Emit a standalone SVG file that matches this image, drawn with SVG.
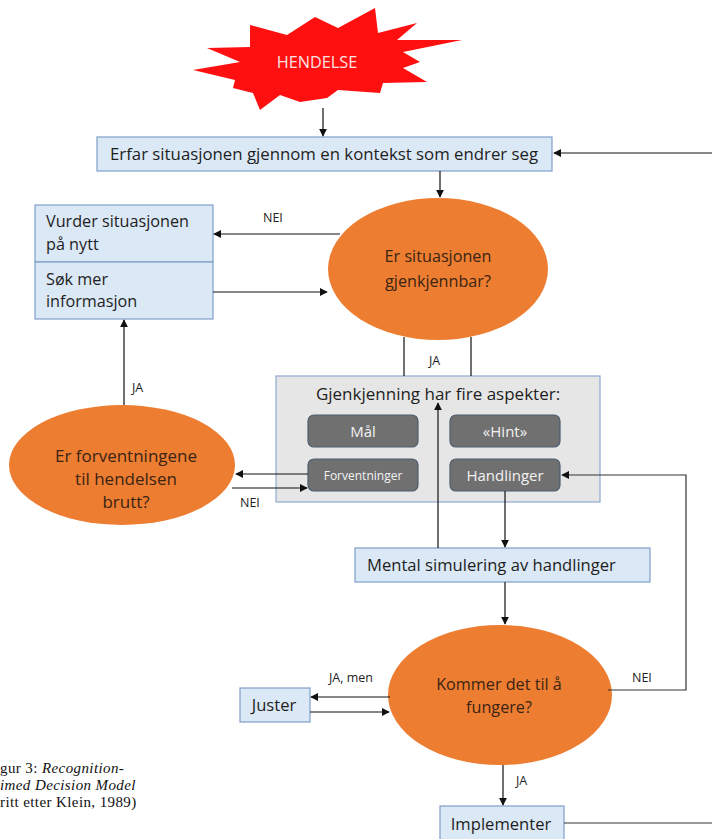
<svg xmlns="http://www.w3.org/2000/svg" width="712" height="839" viewBox="0 0 712 839">
  <style>
    .t { font-family: "Open Sans", "Noto Sans", sans-serif; font-size: 16.6px; fill: #1e1e1e; }
    .lbl { font-family: "Open Sans", "Noto Sans", sans-serif; font-size: 12.5px; fill: #1e1e1e; }
    .q { font-family: "Open Sans", "Noto Sans", sans-serif; font-size: 16.2px; fill: #3a2414; text-anchor: middle; }
    .box { fill: #dbe8f5; stroke: #7f9fc8; stroke-width: 1.2; }
    .oval { fill: #ed7d31; }
    .btn { fill: #707070; stroke: #4d5e70; stroke-width: 1.2; }
    .btxt { font-family: "Open Sans", "Noto Sans", sans-serif; font-size: 15px; fill: #f2f2f2; text-anchor: middle; }
    .ln { fill: none; stroke: #111; stroke-width: 1.2; }
    .cap { font-family: "Liberation Serif", serif; font-size: 15px; letter-spacing: 0.4px; fill: #111; }
  </style>
  <defs>
    <marker id="ah" viewBox="0 0 10 10" refX="9" refY="5" markerWidth="8" markerHeight="8" markerUnits="userSpaceOnUse" orient="auto">
      <path d="M0,0 L10,5 L0,10 z" fill="#111"/>
    </marker>
  </defs>

  <rect width="712" height="839" fill="#ffffff"/>

  <!-- event burst -->
  <g id="hendelse">
    <polygon fill="#ff1010" points="193,70 240,62 207,48 250,47 250,25 287,35 315,17 338,28 375,8 378,33 417,23 397,40 462,40 403,52 420,62 403,68 427,82 383,83 380,93 338,90 327,98 300,102 280,95 260,110 253,93 233,88 235,80"/>
    <text x="317" y="68" class="btxt" style="fill:#fbe2e2;font-size:16.3px">HENDELSE</text>
  </g>

  <g id="erfar">
    <rect class="box" x="97" y="137" width="455" height="34"/>
    <text class="t" x="110" y="160" style="font-size:16.8px">Erfar situasjonen gjennom en kontekst som endrer seg</text>
  </g>

  <g id="gjenkjennbar">
    <ellipse class="oval" cx="438" cy="269" rx="110" ry="71"/>
    <text class="q" x="438" y="262">Er situasjonen</text>
    <text class="q" x="438" y="287">gjenkjennbar?</text>
  </g>

  <g id="vurder">
    <rect class="box" x="35" y="205" width="178" height="57"/>
    <text class="t" x="46" y="227" style="font-size:16.2px">Vurder situasjonen</text>
    <text class="t" x="46" y="250" style="font-size:16.2px">på nytt</text>
  </g>

  <g id="sok">
    <rect class="box" x="35" y="262" width="178" height="57"/>
    <text class="t" x="46" y="285" style="font-size:16.2px">Søk mer</text>
    <text class="t" x="46" y="307" style="font-size:16.2px">informasjon</text>
  </g>

  <g id="aspekter">
    <rect x="276" y="376" width="324" height="126" fill="#e6e6e6" stroke="#8faad2" stroke-width="1.2"/>
    <text class="t" x="438" y="400" text-anchor="middle" style="font-size:17px">Gjenkjenning har fire aspekter:</text>
  </g>
  <g id="maal">
    <rect class="btn" x="308" y="415" width="110" height="32" rx="6"/>
    <text class="btxt" x="363" y="437">Mål</text>
  </g>
  <g id="hint">
    <rect class="btn" x="450" y="415" width="110" height="32" rx="6"/>
    <text class="btxt" x="505" y="437">«Hint»</text>
  </g>
  <g id="forventninger">
    <rect class="btn" x="308" y="459" width="110" height="32" rx="6"/>
    <text class="btxt" x="363" y="480" style="font-size:12px">Forventninger</text>
  </g>
  <g id="handlinger">
    <rect class="btn" x="450" y="459" width="110" height="32" rx="6"/>
    <text class="btxt" x="505" y="481">Handlinger</text>
  </g>

  <g id="brutt">
    <ellipse class="oval" cx="122" cy="465" rx="113" ry="60"/>
    <text class="q" x="126" y="462" style="font-size:17px">Er forventningene</text>
    <text class="q" x="126" y="485" style="font-size:17px">til hendelsen</text>
    <text class="q" x="126" y="508" style="font-size:17px">brutt?</text>
  </g>

  <g id="mental">
    <rect class="box" x="355" y="548" width="295" height="34"/>
    <text class="t" x="367" y="571">Mental simulering av handlinger</text>
  </g>

  <g id="fungere">
    <ellipse class="oval" cx="500" cy="695" rx="112" ry="70"/>
    <text class="q" x="499" y="690">Kommer det til å</text>
    <text class="q" x="499" y="713">fungere?</text>
  </g>

  <g id="juster">
    <rect class="box" x="240" y="688" width="70" height="34"/>
    <text class="t" x="274" y="711" text-anchor="middle">Juster</text>
  </g>

  <g id="implementer">
    <rect class="box" x="440" y="806" width="124" height="36"/>
    <text class="t" x="501" y="830" text-anchor="middle">Implementer</text>
  </g>

  <g id="connectors">
    <line class="ln" x1="323" y1="108" x2="323" y2="136" marker-end="url(#ah)"/>
    <line class="ln" x1="712" y1="153" x2="554" y2="153" marker-end="url(#ah)"/>
    <line class="ln" x1="440" y1="171" x2="440" y2="197" marker-end="url(#ah)"/>
    <line class="ln" x1="340" y1="234" x2="214" y2="234" marker-end="url(#ah)"/>
    <line class="ln" x1="213" y1="292" x2="327" y2="292" marker-end="url(#ah)"/>
    <line class="ln" x1="404" y1="337" x2="404" y2="376"/>
    <line class="ln" x1="471" y1="337" x2="471" y2="376"/>
    <line class="ln" x1="438" y1="548" x2="438" y2="403" marker-end="url(#ah)"/>
    <line class="ln" x1="505" y1="491" x2="505" y2="547" marker-end="url(#ah)"/>
    <line class="ln" x1="505" y1="582" x2="505" y2="624" marker-end="url(#ah)"/>
    <line class="ln" x1="308" y1="474" x2="236" y2="474" marker-end="url(#ah)"/>
    <line class="ln" x1="232" y1="488" x2="307" y2="488" marker-end="url(#ah)"/>
    <line class="ln" x1="124" y1="405" x2="124" y2="320" marker-end="url(#ah)"/>
    <polyline class="ln" points="608,690 686,690 686,475 562,475" marker-end="url(#ah)" style="stroke:#333"/>
    <line class="ln" x1="390" y1="697" x2="311" y2="697" marker-end="url(#ah)"/>
    <line class="ln" x1="310" y1="712" x2="389" y2="712" marker-end="url(#ah)"/>
    <line class="ln" x1="503" y1="765" x2="503" y2="805" marker-end="url(#ah)"/>
    <line class="ln" x1="564" y1="823" x2="712" y2="823" style="stroke:#333"/>
  </g>

  <g id="labels">
    <text class="lbl" x="263" y="222">NEI</text>
    <text class="lbl" x="429" y="365">JA</text>
    <text class="lbl" x="132" y="392">JA</text>
    <text class="lbl" x="240" y="507">NEI</text>
    <text class="lbl" x="329" y="682">JA, men</text>
    <text class="lbl" x="632" y="682">NEI</text>
    <text class="lbl" x="516" y="785">JA</text>
  </g>

  <g id="caption">
    <text class="cap" x="0" y="773">gur 3: <tspan font-style="italic">Recognition-</tspan></text>
    <text class="cap" x="0" y="790" font-style="italic">imed Decision Model</text>
    <text class="cap" x="0" y="807">ritt etter Klein, 1989)</text>
  </g>
</svg>
